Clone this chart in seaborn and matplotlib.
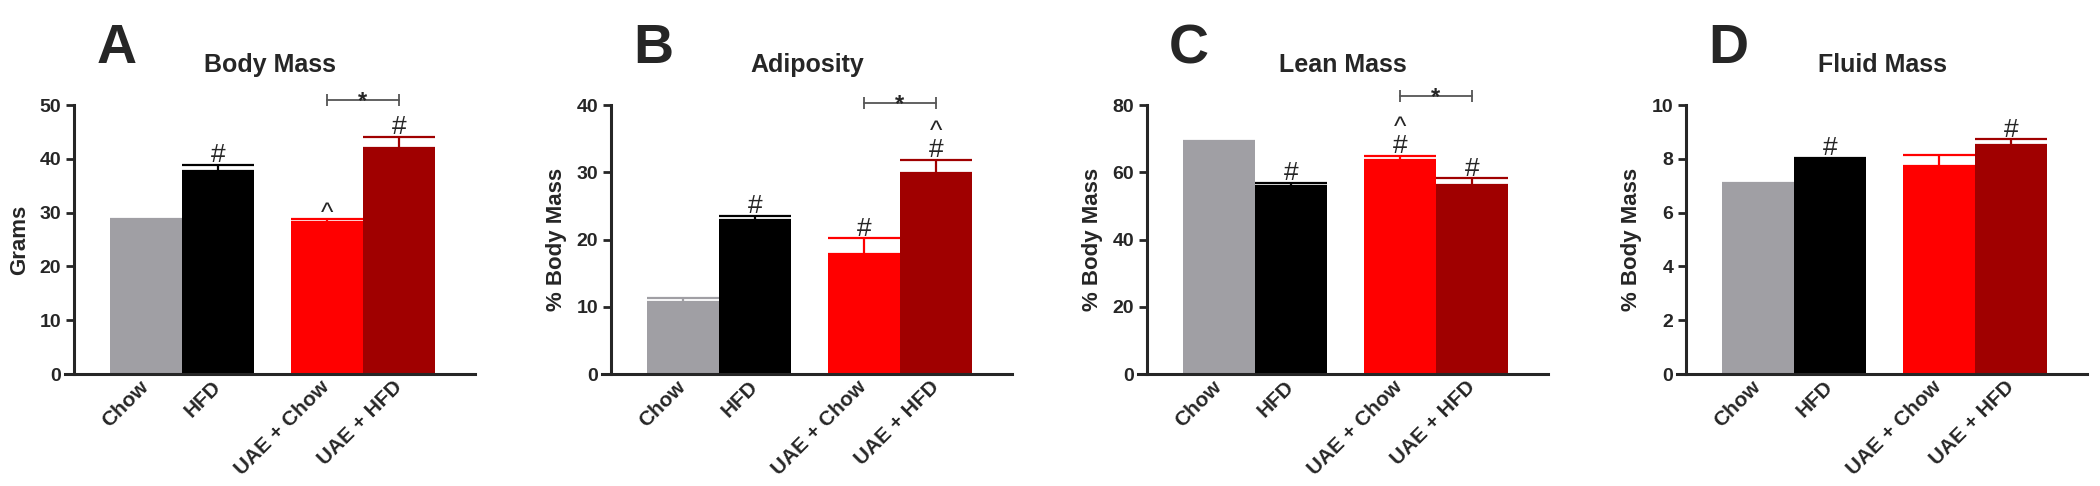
import numpy as np
import pandas as pd
import matplotlib
matplotlib.use("Agg")
import matplotlib.pyplot as plt
import seaborn as sns

# groups and colours
groups = ["Chow", "HFD", "UAE + Chow", "UAE + HFD"]
colors = ["#a09fa4", "#000000", "#ff0000", "#a00000"]

letters = ["A", "B", "C", "D"]
titles = ["Body Mass", "Adiposity", "Lean Mass", "Fluid Mass"]
ylabels = ["Grams", "% Body Mass", "% Body Mass", "% Body Mass"]

# means and SEM
body_mass = [28.4, 37.8, 28.3, 42.0]
body_mass_sem = [0.5, 1.1, 0.45, 2.1]
adiposity = [10.7, 22.9, 17.8, 29.9]
adiposity_sem = [0.65, 0.65, 2.4, 1.95]
lean_mass = [68.7, 56.0, 63.6, 56.3]
lean_mass_sem = [0.7, 0.9, 1.3, 1.9]
fluid_mass = [7.02, 7.95, 7.74, 8.51]
fluid_mass_sem = [0.08, 0.08, 0.41, 0.22]

# significance marks above each bar
marks_a = ["", "#", "^", "#"]
marks_b = ["", "#", "#", "^\n#"]
marks_c = ["", "#", "^\n#", "#"]
marks_d = ["", "#", "", "#"]

# axis ranges and "*" bracket heights
y_max = [50, 40, 80, 10]
y_step = [10, 10, 20, 2]
star_y = [51.0, 40.3, 82.7, None]

panels = [
    (body_mass, body_mass_sem, marks_a),
    (adiposity, adiposity_sem, marks_b),
    (lean_mass, lean_mass_sem, marks_c),
    (fluid_mass, fluid_mass_sem, marks_d),
]

# layout: bar positions with a gap between the two pairs
bar_pos = [0, 1, 2.5, 3.5]

sns.set_style("ticks")
plt.rcParams['font.family'] = ['Liberation Sans', 'DejaVu Sans']
plt.rcParams['font.weight'] = 'bold'

fig = plt.figure(figsize=(21, 4.86), dpi=100)
lefts = [65, 602, 1138, 1677]


def draw_panel(ax, values, sem, marks, letter, title, ylabel, ymax, ystep, sig):
    df = pd.DataFrame({"pos": bar_pos, "value": values, "group": groups})
    sns.barplot(data=df, x="pos", y="value", hue="group", hue_order=groups,
                palette=colors, native_scale=True, width=1.0, errorbar=None,
                saturation=1, linewidth=0, legend=False, ax=ax)

    # upward-only SEM bars
    for p, v, s, c in zip(bar_pos, values, sem, colors):
        ax.errorbar(p, v, yerr=[[0], [s]], fmt='none', ecolor=c,
                    elinewidth=1.6, capsize=26, capthick=1.6, zorder=3)

    # # and ^ marks
    for p, v, s, m in zip(bar_pos, values, sem, marks):
        if not m:
            continue
        off = -7 if m == "^" else -2.5
        ax.annotate(m, xy=(p, v + s), xytext=(0, off), textcoords='offset pixels',
                    ha='center', va='bottom', fontsize=19, fontweight='normal',
                    linespacing=0.72, annotation_clip=False)

    # * bracket between the UAE groups
    if sig is not None:
        ax.plot([bar_pos[2], bar_pos[3]], [sig, sig], color='#555555', lw=1.3,
                marker='|', markersize=8, mew=1.3, clip_on=False)
        ax.annotate("*", xy=((bar_pos[2] + bar_pos[3]) / 2, sig), xytext=(0, -8),
                    textcoords='offset pixels', ha='center', va='baseline',
                    fontsize=17, fontweight='bold', annotation_clip=False)

    ax.set_xlim(-1.12, 4.55)
    ax.set_ylim(0, ymax)
    ax.set_yticks(np.arange(0, ymax + ystep / 2, ystep))
    ax.set_xticks(bar_pos)
    ax.set_xticklabels(groups, rotation=45, ha='right', va='center',
                       rotation_mode='anchor', fontsize=15, fontweight='bold')
    ax.tick_params(axis='x', length=0, pad=7)
    ax.tick_params(axis='y', length=6, width=2, labelsize=14, pad=3)
    for t in ax.get_yticklabels():
        t.set_fontweight('bold')

    sns.despine(ax=ax)
    ax.spines['left'].set_position(('data', -1.0))
    ax.spines['left'].set_linewidth(2.2)
    ax.spines['bottom'].set_linewidth(2.2)

    ax.set_xlabel("")
    ax.set_ylabel(ylabel, fontsize=16, fontweight='bold')
    ax.yaxis.set_label_coords(-0.085, 0.5)
    ax.set_title(title, fontsize=18, fontweight='bold', pad=24)
    ax.text(0.076, 1.156, letter, transform=ax.transAxes, ha='left', va='baseline',
            fontsize=40, fontweight='heavy')


for i, (values, sem, marks) in enumerate(panels):
    ax = fig.add_axes([lefts[i] / 2100, 1 - 374 / 486, 410 / 2100, 269 / 486])
    draw_panel(ax, values, sem, marks, letters[i], titles[i], ylabels[i],
               y_max[i], y_step[i], star_y[i])

fig.savefig("out.png", dpi=100)
